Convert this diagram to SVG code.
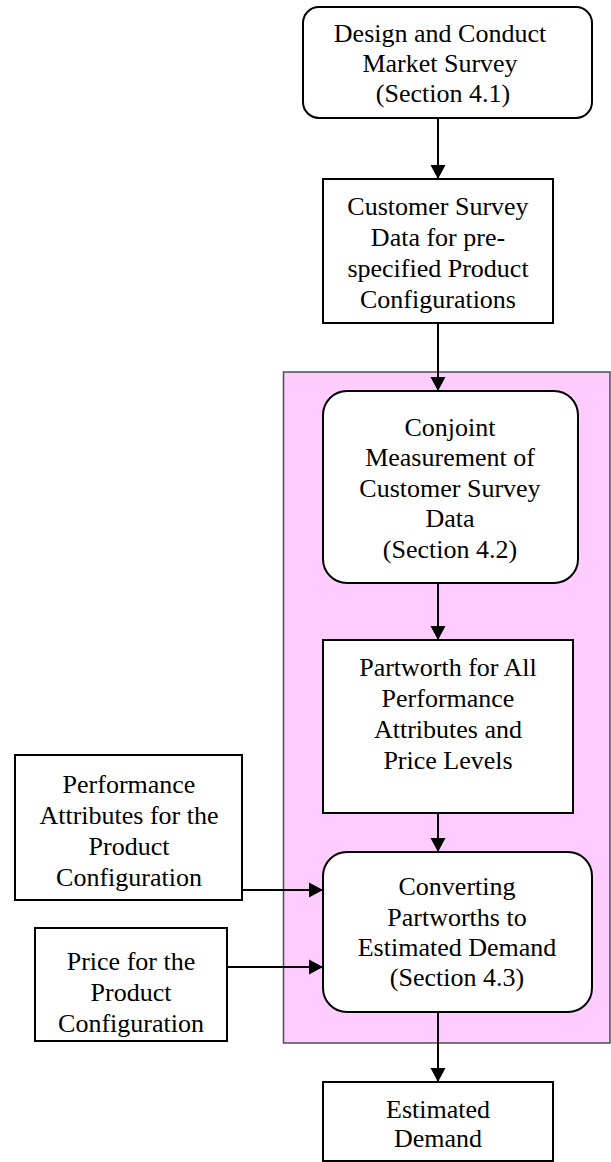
<svg xmlns="http://www.w3.org/2000/svg" width="611" height="1162" viewBox="0 0 611 1162">
<style>
.box{fill:#fff;stroke:#000;stroke-width:2}
.t{font-family:"Liberation Serif","Times New Roman",serif;font-size:26px;fill:#000;text-anchor:middle}
.c{stroke:#000;stroke-width:2;fill:none;marker-end:url(#ah)}
</style>
<defs>
<marker id="ah" markerUnits="userSpaceOnUse" markerWidth="14" markerHeight="16" refX="14" refY="8" orient="auto">
<path d="M0,0.5 L14,8 L0,15.5 z" fill="#000"/>
</marker>
</defs>
<rect id="module" x="283.5" y="372" width="326.5" height="671" fill="#ffccff" stroke="#4d4d4d" stroke-width="1.5"/>
<g id="connectors">
<line class="c" x1="438" y1="118" x2="438" y2="179"/>
<line class="c" x1="438" y1="323" x2="438" y2="391"/>
<line class="c" x1="438" y1="583" x2="438" y2="640"/>
<line class="c" x1="438" y1="813" x2="438" y2="852"/>
<line class="c" x1="242" y1="890" x2="323" y2="890"/>
<line class="c" x1="227" y1="967" x2="323" y2="967"/>
<line class="c" x1="438" y1="1012" x2="438" y2="1082"/>
</g>
<g id="n1">
<rect class="box" x="303" y="7" width="289" height="111" rx="16"/>
<text class="t" x="440"><tspan x="440" y="42">Design and Conduct</tspan><tspan x="440" y="72">Market Survey</tspan><tspan x="443" y="102">(Section 4.1)</tspan></text>
</g>
<g id="n2">
<rect class="box" x="323" y="179" width="230" height="144"/>
<text class="t"><tspan x="438" y="215">Customer Survey</tspan><tspan x="438" y="246">Data for pre-</tspan><tspan x="438" y="277">specified Product</tspan><tspan x="438" y="308">Configurations</tspan></text>
</g>
<g id="n3">
<rect class="box" x="323" y="391" width="255" height="192" rx="24"/>
<text class="t"><tspan x="450" y="436">Conjoint</tspan><tspan x="450" y="466">Measurement of</tspan><tspan x="450" y="497">Customer Survey</tspan><tspan x="450" y="527">Data</tspan><tspan x="450" y="558">(Section 4.2)</tspan></text>
</g>
<g id="n4">
<rect class="box" x="323" y="640" width="250" height="173"/>
<text class="t"><tspan x="448" y="676">Partworth for All</tspan><tspan x="448" y="707">Performance</tspan><tspan x="448" y="738">Attributes and</tspan><tspan x="448" y="769">Price Levels</tspan></text>
</g>
<g id="n5">
<rect class="box" x="323" y="852" width="269" height="160" rx="24"/>
<text class="t"><tspan x="457" y="895">Converting</tspan><tspan x="457" y="926">Partworths to</tspan><tspan x="457" y="956">Estimated Demand</tspan><tspan x="457" y="986">(Section 4.3)</tspan></text>
</g>
<g id="n6">
<rect class="box" x="15" y="755" width="227" height="145"/>
<text class="t"><tspan x="129" y="793">Performance</tspan><tspan x="129" y="824">Attributes for the</tspan><tspan x="129" y="855">Product</tspan><tspan x="129" y="886">Configuration</tspan></text>
</g>
<g id="n7">
<rect class="box" x="35" y="928" width="192" height="113"/>
<text class="t"><tspan x="131" y="970">Price for the</tspan><tspan x="131" y="1001">Product</tspan><tspan x="131" y="1032">Configuration</tspan></text>
</g>
<g id="n8">
<rect class="box" x="323" y="1082" width="230" height="79"/>
<text class="t"><tspan x="438" y="1118">Estimated</tspan><tspan x="438" y="1147">Demand</tspan></text>
</g>
</svg>
